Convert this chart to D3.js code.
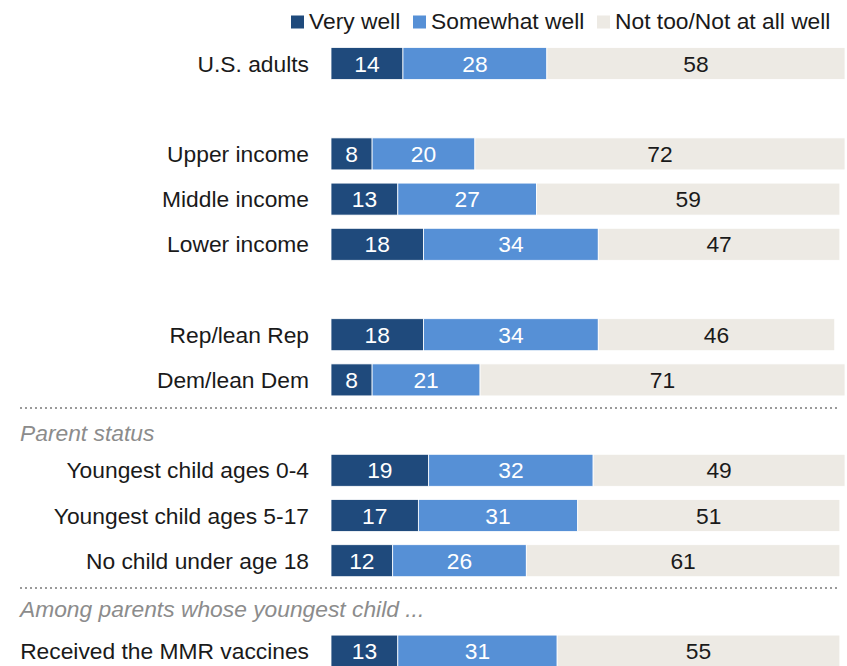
<!DOCTYPE html>
<html>
<head>
<meta charset="utf-8">
<script src="https://cdn.jsdelivr.net/npm/d3@7"></script>
<style>
  html, body { margin: 0; padding: 0; background: #fff; }
  svg { display: block; font-family: "Liberation Sans", Arial, sans-serif; }
</style>
</head>
<body>
<svg id="chart" width="847" height="666"></svg>
<script>
// Row labels, top to bottom, and the slot each sits in (blank slots separate groups)
const categories = [
  "U.S. adults",
  "Upper income", "Middle income", "Lower income",
  "Rep/lean Rep", "Dem/lean Dem",
  "Youngest child ages 0-4", "Youngest child ages 5-17", "No child under age 18",
  "Received the MMR vaccines"
];
const slots = [0, 2, 3, 4, 6, 7, 9, 10, 11, 13];

// Share answering each way (%)
const veryWell     = [14, 8, 13, 18, 18, 8, 19, 17, 12, 13];
const somewhatWell = [28, 20, 27, 34, 34, 21, 32, 31, 26, 31];
const notWell      = [58, 72, 59, 47, 46, 71, 49, 51, 61, 55];

const seriesNames = ["Very well", "Somewhat well", "Not too/Not at all well"];

// Section headers with a dotted rule above each
const sectionHeaders = ["Parent status", "Among parents whose youngest child ..."];

const colors = ["#1f4a7c", "#5690d6", "#edeae4"];
const textColors = ["#ffffff", "#ffffff", "#1a1a1a"];

const svg = d3.select("#chart");

const x = d3.scaleLinear().domain([0, 100]).range([331, 845]);
const y = d3.scaleLinear().domain([0, 13]).range([63.5, 651.1]); // slot -> bar centre
const barH = 32;
const fs = 22.8;

const rows = categories.map((c, i) => {
  const vals = [veryWell[i], somewhatWell[i], notWell[i]];
  let acc = 0;
  const segs = vals.map((v, k) => {
    const s = { k, v, x0: acc, x1: acc + v };
    acc += v;
    return s;
  });
  return { label: c, slot: slots[i], segs };
});

// Legend
const legendX = [291, 413, 597];
const legend = svg.append("g").attr("class", "legend");
seriesNames.forEach((name, k) => {
  legend.append("rect")
    .attr("x", legendX[k]).attr("y", 15.5)
    .attr("width", 13).attr("height", 13)
    .attr("fill", colors[k]);
  legend.append("text")
    .attr("x", legendX[k] + 18).attr("y", 29)
    .attr("font-size", fs).attr("fill", "#1a1a1a")
    .text(name);
});

// Dotted dividers and section headers
const dividerY = [408, 588];
const headerY = [441, 617];
sectionHeaders.forEach((h, i) => {
  svg.append("line")
    .attr("x1", 20).attr("x2", 838)
    .attr("y1", dividerY[i]).attr("y2", dividerY[i])
    .attr("stroke", "#9a9a9a").attr("stroke-width", 2)
    .attr("stroke-dasharray", "2,3");
  svg.append("text")
    .attr("x", 20).attr("y", headerY[i])
    .attr("font-size", fs).attr("font-style", "italic")
    .attr("fill", "#8c8c8c")
    .text(h);
});

// Bars
const row = svg.selectAll("g.row").data(rows).join("g")
  .attr("class", "row")
  .attr("transform", d => `translate(0,${y(d.slot)})`);

row.append("text")
  .attr("x", 309).attr("y", 8)
  .attr("text-anchor", "end")
  .attr("font-size", fs).attr("fill", "#1a1a1a")
  .text(d => d.label);

const seg = row.selectAll("g.seg").data(d => d.segs).join("g").attr("class", "seg");

seg.append("rect")
  .attr("x", d => x(d.x0))
  .attr("y", -barH / 2)
  .attr("width", d => x(d.x1) - x(d.x0))
  .attr("height", barH)
  .attr("fill", d => colors[d.k])
  .attr("stroke", "#ffffff").attr("stroke-width", 0.8);

seg.append("text")
  .attr("x", d => (x(d.x0) + x(d.x1)) / 2)
  .attr("y", 8)
  .attr("text-anchor", "middle")
  .attr("font-size", fs)
  .attr("fill", d => textColors[d.k])
  .text(d => d.v);
</script>
</body>
</html>
